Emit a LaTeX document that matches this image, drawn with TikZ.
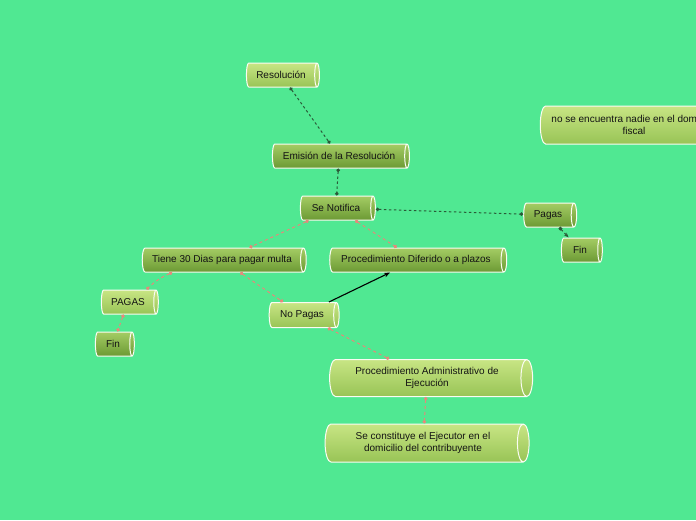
\documentclass[tikz,border=0pt]{standalone}
\usepackage{fontspec}
\setmainfont{Liberation Sans}
\usepackage{xcolor}
\usepackage{tikz}
\usetikzlibrary{shapes.geometric, arrows.meta, positioning}
\definecolor{bg}{HTML}{50E892}
\definecolor{litetop}{HTML}{C8E584}
\definecolor{litebot}{HTML}{98C456}
\definecolor{darktop}{HTML}{A4CC64}
\definecolor{darkbot}{HTML}{6C9A34}
\definecolor{link}{HTML}{2A5A38}
\definecolor{salmon}{HTML}{E8887A}
\definecolor{ink}{HTML}{141414}

\begin{document}
\begin{tikzpicture}[
  x=1pt, y=-1pt,
  cyl/.style={cylinder, aspect=0.5, draw=white!90!litetop, line width=1pt, minimum width=24pt, inner sep=1pt, align=center, text=ink, font=\fontsize{10}{12}\selectfont},
  lite/.style={cyl, top color=litetop, bottom color=litebot},
  dark/.style={cyl, top color=darktop, bottom color=darkbot},
  dep/.style={{Circle[length=3.5pt]}-{Circle[length=3.5pt]}, link, line width=1pt, dash pattern=on 2.5pt off 2.5pt},
  sub/.style={{Circle[length=3.5pt]}-{Circle[length=3.5pt]}, salmon, line width=1pt, dash pattern=on 3pt off 3pt},
  arr/.style={-{Stealth[length=6pt]}, black, line width=1.1pt},
]
\useasboundingbox (0,0) rectangle (696,520);
\clip (0,0) rectangle (696,520);
\fill[bg] (0,0) rectangle (696,520);

% Main line
\node[lite, minimum height=73pt] (res) at (281,75) {Resolución};
\node[dark, minimum height=137pt] (emi) at (339,156) {Emisión de la Resolución};
\node[dark, minimum height=75pt] (noti) at (336,208) {Se Notifica};

% Right branch
\node[dark, minimum height=53pt] (pagas) at (548,215) {Pagas};
\node[dark, minimum height=41pt] (finr) at (580,250) {Fin};
\node[lite, minimum height=195pt, minimum width=38pt] (nadie) at (634,125) {no se encuentra nadie en el domicilio\\fiscal};

% Left branch
\node[dark, minimum height=164pt] (plazo) at (222,260) {Tiene 30 Dias para pagar multa};
\node[dark, minimum height=177pt] (dif) at (416,260) {Procedimiento Diferido o a plazos};
\node[lite, minimum height=57pt] (pag) at (128,302) {PAGAS};
\node[dark, minimum height=39pt] (finl) at (113,344) {Fin};
\node[lite, minimum height=70pt, minimum width=25pt] (nopag) at (302,315) {No Pagas};
\node[lite, minimum height=203pt, minimum width=37pt] (pae) at (427,378) {Procedimiento Administrativo de\\Ejecución};
\node[lite, minimum height=204pt, minimum width=38pt] (ejec) at (423,443) {Se constituye el Ejecutor en el\\domicilio del contribuyente};

% Connectors
\draw[dep] (res) -- (emi);
\draw[dep] (emi) -- (noti);
\draw[dep] (noti) -- (pagas);
\draw[{Square[length=3pt]}-{Stealth[length=5pt]}, link, line width=1pt, dash pattern=on 2.5pt off 2.5pt] (pagas) -- (finr);

\draw[sub] (noti) -- (plazo);
\draw[sub] (noti) -- (dif);
\draw[sub] (plazo) to[bend right=10] (pag);
\draw[sub] (plazo) -- (nopag);
\draw[sub] (pag) -- (finl);
\draw[sub] (nopag) -- (pae);
\draw[sub] (pae) -- (ejec);

\draw[arr] (nopag) -- (dif);

\end{tikzpicture}
\end{document}
